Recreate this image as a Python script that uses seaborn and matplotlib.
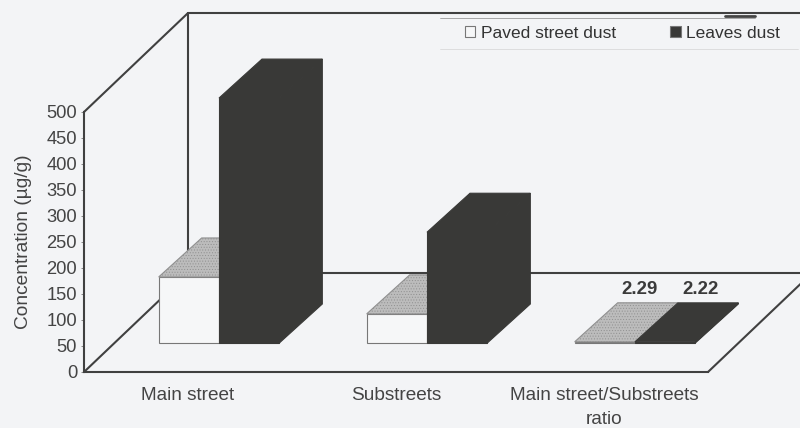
import numpy as np
import pandas as pd
import matplotlib
matplotlib.use("Agg")
import matplotlib.pyplot as plt
from matplotlib.lines import Line2D
from matplotlib.patches import Polygon
from matplotlib.transforms import Affine2D, IdentityTransform
import seaborn as sns

categories = ["Main street", "Substreets", "Main street/Substreets\nratio"]
paved = [127, 56, 2.29]
leaves = [471, 213, 2.22]
series_names = ["Paved street dust", "Leaves dust"]
y_ticks = list(range(0, 501, 50))
value_labels = ["2.29", "2.22"]

BG = "#f3f4f6"
INK = "#444444"
DARK = "#393937"
GREY = "#bcbcbc"

sns.set_theme(style="ticks")
plt.rcParams["font.family"] = ["Liberation Sans", "DejaVu Sans"]
plt.rcParams["hatch.linewidth"] = 0.4

df = pd.DataFrame({
    "category": categories * 2,
    "series": [series_names[0]] * 3 + [series_names[1]] * 3,
    "value": paved + leaves,
})

fig = plt.figure(figsize=(8, 4.28), dpi=100, facecolor=BG)
W, H = 800, 428
ax = fig.add_axes([84 / W, 1 - 372 / H, 624 / W, 260 / H])
ax.set_facecolor("none")

sns.barplot(data=df, x="category", y="value", hue="series", order=categories,
            hue_order=series_names, palette={series_names[0]: "#f6f7f8", series_names[1]: DARK},
            width=0.58, gap=0, edgecolor="#777777", linewidth=0.8, ax=ax, zorder=3)

ax.set_xlim(-0.5, 2.5)
ax.set_ylim(0, 500)
ax.set_yticks(y_ticks)
sns.despine(ax=ax)
for s in ["left", "bottom"]:
    ax.spines[s].set_linewidth(1.5)
    ax.spines[s].set_color("#404040")
    ax.spines[s].set_zorder(2)
ax.tick_params(axis="y", length=2, width=0.7, color="#888888", labelsize=13.2, labelcolor=INK, pad=3)
ax.tick_params(axis="x", length=0, labelsize=13.7, labelcolor=INK, pad=10.7)
for lab in ax.get_xticklabels():
    lab.set_linespacing(1.55)
ax.set_xlabel("")
ax.set_ylabel("Concentration (µg/g)", fontsize=13.8, color=INK)
ax.yaxis.set_label_coords(-0.084, 0.5)

# depth of the 3-D box (display pixels)
BOX = (104, 99)
box_tr = ax.transData + Affine2D().translate(*BOX)
x0, x1 = ax.get_xlim()
y0, y1 = ax.get_ylim()
frame_kw = dict(color="#404040", lw=1.5, clip_on=False, zorder=1, solid_capstyle="round")
to_pix = ax.transData.transform
for x, y in [(x0, y0), (x0, y1), (x1, y0)]:
    a = to_pix((x, y))
    ax.add_line(Line2D([a[0], a[0] + BOX[0]], [a[1], a[1] + BOX[1]],
                       transform=IdentityTransform(), **frame_kw))
ax.plot([x0, x0], [y0, y1], transform=box_tr, **frame_kw)
ax.plot([x0, x1], [y1, y1], transform=box_tr, **frame_kw)
ax.plot([x0, x1], [y0, y0], transform=box_tr, **frame_kw)

# bars: shift front faces onto the floor, then add top and side faces
SHIFT = (31, 29)
BAR_D = (43, 39)
bar_tr = ax.transData + Affine2D().translate(*SHIFT)
face_tr = ax.transData + Affine2D().translate(SHIFT[0] + BAR_D[0], SHIFT[1] + BAR_D[1])
for i, (cont, top_c) in enumerate(zip(ax.containers, [GREY, DARK])):
    z = 3 + i
    for bar in cont:
        bar.set_transform(bar_tr)
        bar.set_clip_on(False)
        bar.set_zorder(z)
        if i == 1:
            bar.set_edgecolor(DARK)
        l, r, h = bar.get_x(), bar.get_x() + bar.get_width(), bar.get_height()
        pts = [bar_tr.transform(p) for p in [(l, h), (r, h)]] + \
              [face_tr.transform(p) for p in [(r, h), (l, h)]]
        ax.add_patch(Polygon(pts, closed=True, transform=IdentityTransform(), facecolor=top_c,
                             edgecolor="#909090" if i == 0 else DARK, lw=0.8,
                             hatch="......" if i == 0 else None,
                             clip_on=False, zorder=z))
        if i == 1:
            pts = [bar_tr.transform(p) for p in [(r, 0), (r, h)]] + \
                  [face_tr.transform(p) for p in [(r, h), (r, 0)]]
            ax.add_patch(Polygon(pts, closed=True, transform=IdentityTransform(), facecolor=DARK,
                                 edgecolor=DARK, lw=0.8, clip_on=False, zorder=z))

# value labels on the ratio group
lab_tr = ax.transData + Affine2D().translate(SHIFT[0] + 35, SHIFT[1] + BAR_D[1] + 13)
for cont, txt in zip(ax.containers, value_labels):
    bar = cont[2]
    ax.text(bar.get_x() + bar.get_width() / 2, bar.get_height(), txt, transform=lab_tr,
            ha="center", va="center", fontsize=13.4, fontweight="bold", color="#3a3a3a",
            clip_on=False, zorder=6)

sns.move_legend(ax, "center", bbox_to_anchor=(622.5 / W, 1 - 33 / H),
                bbox_transform=fig.transFigure, ncol=2, frameon=False, title=None,
                fontsize=12.5, handlelength=0.62, handleheight=0.62, handletextpad=0.3,
                columnspacing=3.15, labelcolor="#333333")

# scan marks around the legend
fig.add_artist(Line2D([440 / W, 755 / W], [1 - 18 / H, 1 - 18 / H], color="#888888", lw=0.5))
fig.add_artist(Line2D([725 / W, 755 / W], [1 - 15.5 / H, 1 - 15.5 / H], color="#444444", lw=2))
fig.add_artist(Line2D([440 / W, 798 / W], [1 - 49 / H, 1 - 49 / H], color="#d4d4d4", lw=0.5))

fig.savefig("out.png", dpi=100, facecolor=BG)
